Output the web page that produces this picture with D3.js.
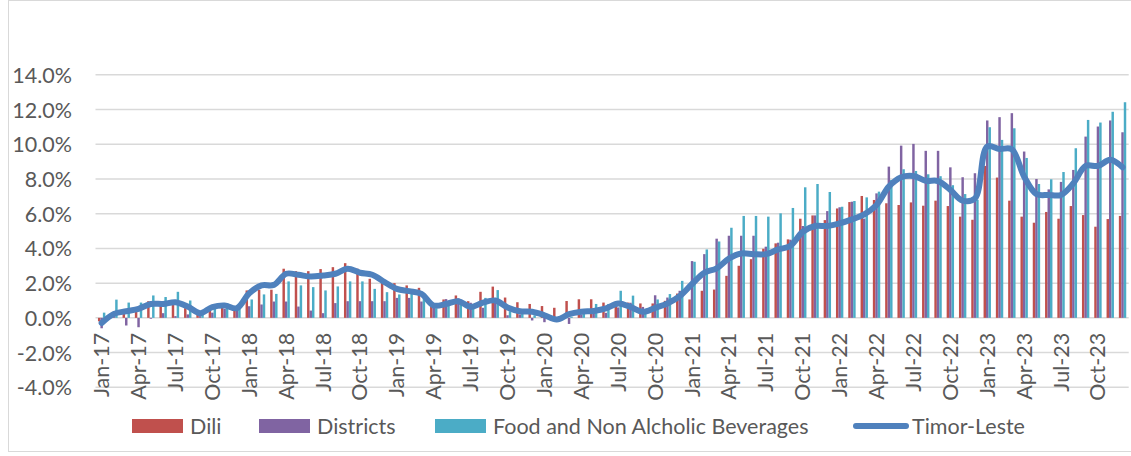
<!DOCTYPE html>
<html>
<head>
<meta charset="utf-8">
<script src="https://cdn.jsdelivr.net/npm/d3@7"></script>
<style>
  body { margin: 0; background: #fff; }
  text { font-family: Lato, "Open Sans", sans-serif; fill: #595959; }
</style>
</head>
<body>
<div id="chart"></div>
<script>
// monthly categories Jan-17 .. Dec-23
const years = ["17", "18", "19", "20", "21", "22", "23"];
const monthNames = ["Jan", "Feb", "Mar", "Apr", "May", "Jun", "Jul", "Aug", "Sep", "Oct", "Nov", "Dec"];
const months = [];
years.forEach(function (yy) {
  monthNames.forEach(function (m) {
    months.push(m + "-" + yy);
  });
});

const yTicks = [-4, -2, 0, 2, 4, 6, 8, 10, 12, 14];

const dili = [
  -0.2, 0.2, 0.42, 0.6, 0.96, 0.85, 0.9, 0.56, 0.23, 0.42, 0.71, 0.62,
  1.58, 1.62, 1.62, 2.83, 2.69, 2.69, 2.81, 2.92, 3.15, 2.83, 2.25, 2.02,
  2.0, 1.87, 1.73, 0.7, 1.06, 1.29, 0.96, 1.5, 1.8, 1.17, 0.9, 0.8,
  0.68, 0.58, 0.97, 1.07, 1.07, 0.88, 0.77, 0.88, 0.83, 0.83, 0.98, 1.4,
  1.06, 1.56, 1.63, 2.42, 3.0, 3.38, 3.98, 4.29, 4.52, 5.71, 5.9, 5.63,
  6.3, 6.67, 7.02, 6.79, 6.6, 6.5, 6.65, 6.46, 6.75, 6.44, 5.83, 5.65,
  8.75, 8.08, 6.75, 5.83, 5.48, 6.1, 5.71, 6.44, 5.92, 5.25, 5.69, 5.87
];
const districts = [
  -0.6, 0.1, -0.44, -0.54, -0.05, 0.27, 0.1, 0.2, 0.1, 0.3, 0.52, 0.5,
  0.67, 0.77, 0.94, 0.94, 0.65, 0.42, 0.27, 0.85, 0.96, 0.96, 0.96, 0.96,
  1.15, 1.15, 0.94, 0.6, 1.08, 1.12, 0.87, 0.58, 0.9, 0.15, 0.2, -0.15,
  -0.25, -0.1, -0.35, 0.2, 0.29, 0.29, 0.6, 0.87, 0.63, 1.3, 1.17, 1.56,
  3.27, 3.67, 4.56, 4.73, 4.73, 4.73, 4.1, 4.33, 4.5, 5.29, 5.9, 6.15,
  6.37, 6.69, 5.72, 7.17, 8.71, 9.92, 10.02, 9.62, 9.62, 8.67, 8.1, 8.33,
  11.37, 11.56, 11.79, 9.58, 8.0, 7.4, 7.83, 8.52, 10.44, 11.02, 11.37, 10.69
];
const food = [
  0.3, 1.05, 0.88, 0.88, 1.29, 1.2, 1.5, 1.0, 0.35, 0.62, 0.85, 0.52,
  1.06, 1.35, 1.38, 2.1, 1.87, 1.77, 1.58, 1.81, 2.1, 2.1, 1.67, 1.48,
  1.35, 1.38, 1.1, 0.55, 0.75, 0.96, 0.63, 1.15, 1.6, 0.38, 0.48, 0.15,
  0.05, 0.1, 0.06, 0.5, 0.8, 0.8, 1.56, 1.28, 0.38, 1.06, 1.37, 2.13,
  3.23, 3.94, 4.4, 5.19, 5.87, 5.87, 5.83, 6.02, 6.33, 7.52, 7.71, 7.25,
  6.4, 6.73, 6.94, 7.27, 7.94, 8.56, 8.46, 8.27, 8.16, 7.64, 7.13, 6.8,
  10.98, 10.25, 10.92, 9.21, 7.71, 7.98, 8.4, 9.77, 11.4, 11.25, 11.87, 12.42
];
const timorLeste = [
  -0.3, 0.23, 0.38, 0.52, 0.8, 0.8, 0.9, 0.65, 0.27, 0.62, 0.71, 0.56,
  1.42, 1.87, 1.9, 2.54, 2.48, 2.38, 2.44, 2.54, 2.83, 2.6, 2.48, 2.06,
  1.67, 1.54, 1.38, 0.71, 0.8, 0.96, 0.63, 0.88, 1.0, 0.6, 0.38, 0.35,
  0.15, -0.1, 0.21, 0.35, 0.4, 0.54, 0.83, 0.63, 0.35, 0.58, 0.83, 1.25,
  1.95, 2.6, 2.85, 3.42, 3.71, 3.67, 3.67, 3.94, 4.15, 4.96, 5.29, 5.29,
  5.44, 5.67, 5.96, 6.5, 7.56, 8.1, 8.17, 7.9, 7.88, 7.37, 6.75, 6.88,
  9.87, 9.73, 9.71, 8.13, 7.13, 7.08, 7.08, 7.75, 8.75, 8.75, 9.1, 8.67
];

const barSeries = [
  { name: "Dili", values: dili, color: "#C0504D" },
  { name: "Districts", values: districts, color: "#8064A2" },
  { name: "Food and Non Alcholic Beverages", values: food, color: "#4BACC6" }
];
const lineName = "Timor-Leste";
const lineColor = "#4F81BD";

const width = 1131,
  height = 456,
  fontSize = 21.5;

let svg = d3
  .select("#chart")
  .append("svg")
  .attr("width", width)
  .attr("height", height);

// chart frame
svg.append("rect")
  .attr("x", 8.5)
  .attr("y", 0.5)
  .attr("width", 1130)
  .attr("height", 451)
  .attr("fill", "none")
  .attr("stroke", "#d9d9d9");

let x = d3.scaleBand()
  .domain(months)
  .range([95.5, 1128.7])
  .paddingInner(0.4)
  .paddingOuter(0.2);

let xSub = d3.scaleBand()
  .domain(barSeries.map(function (s) { return s.name; }))
  .range([0, x.bandwidth()]);

let y = d3.scaleLinear()
  .domain([-4, 14])
  .range([387.3, 74.8]);

// gridlines
svg.append("g")
  .attr("class", "grid")
  .selectAll("line")
  .data(yTicks)
  .join("line")
  .attr("x1", 95.5)
  .attr("x2", 1128.7)
  .attr("y1", function (d) { return y(d); })
  .attr("y2", function (d) { return y(d); })
  .attr("stroke", "#d9d9d9")
  .attr("stroke-width", 1.5);

// y axis labels
let yAxis = svg.append("g")
  .attr("class", "y-axis")
  .attr("transform", "translate(72,0)")
  .call(d3.axisLeft(y).tickValues(yTicks).tickSize(0).tickPadding(0)
    .tickFormat(function (d) { return d.toFixed(1) + "%"; }));
yAxis.select(".domain").remove();
yAxis.selectAll("text")
  .attr("font-size", fontSize)
  .attr("font-family", "Lato")
  .attr("fill", "#595959")
  .attr("dy", "0.35em");

// bars
barSeries.forEach(function (s) {
  svg.append("g")
    .attr("class", "bars")
    .selectAll("rect")
    .data(s.values)
    .join("rect")
    .attr("x", function (d, i) { return x(months[i]) + xSub(s.name); })
    .attr("width", xSub.bandwidth())
    .attr("y", function (d) { return y(Math.max(0, d)); })
    .attr("height", function (d) { return Math.abs(y(d) - y(0)); })
    .attr("fill", s.color);
});

// x axis labels (every quarter)
let xAxis = svg.append("g")
  .attr("class", "x-axis")
  .attr("transform", "translate(0," + y(0) + ")")
  .call(d3.axisBottom(x)
    .tickValues(months.filter(function (d, i) { return i % 3 === 0; }))
    .tickSize(0).tickPadding(0));
xAxis.select(".domain").remove();
xAxis.selectAll("text")
  .attr("font-size", fontSize)
  .attr("font-family", "Lato")
  .attr("fill", "#595959")
  .attr("transform", "rotate(-90)")
  .attr("text-anchor", "end")
  .attr("x", -15)
  .attr("y", 0)
  .attr("dy", "0.35em");

// Timor-Leste line
let line = d3.line()
  .x(function (d, i) { return x(months[i]) + x.bandwidth() / 2; })
  .y(function (d) { return y(d); })
  .curve(d3.curveCatmullRom.alpha(0.5));

svg.append("path")
  .datum(timorLeste)
  .attr("class", "chart-line")
  .attr("fill", "none")
  .attr("stroke", lineColor)
  .attr("stroke-width", 6)
  .attr("stroke-linejoin", "round")
  .attr("stroke-linecap", "round")
  .attr("d", line);

// legend
const legendItems = [
  { name: "Dili", color: "#C0504D", type: "rect", x: 132, tx: 190 },
  { name: "Districts", color: "#8064A2", type: "rect", x: 259, tx: 317 },
  { name: "Food and Non Alcholic Beverages", color: "#4BACC6", type: "rect", x: 435, tx: 493 },
  { name: lineName, color: lineColor, type: "line", x: 854, tx: 912 }
];
let legend = svg.append("g").attr("class", "legend");
legendItems.forEach(function (d) {
  if (d.type === "rect") {
    legend.append("rect")
      .attr("x", d.x).attr("y", 419)
      .attr("width", 51).attr("height", 14)
      .attr("fill", d.color);
  } else {
    legend.append("line")
      .attr("x1", d.x + 2).attr("x2", d.x + 52)
      .attr("y1", 426).attr("y2", 426)
      .attr("stroke", d.color)
      .attr("stroke-width", 6)
      .attr("stroke-linecap", "round");
  }
  legend.append("text")
    .attr("x", d.tx).attr("y", 426)
    .attr("dy", "0.35em")
    .attr("font-size", fontSize)
    .text(d.name);
});
</script>
</body>
</html>
